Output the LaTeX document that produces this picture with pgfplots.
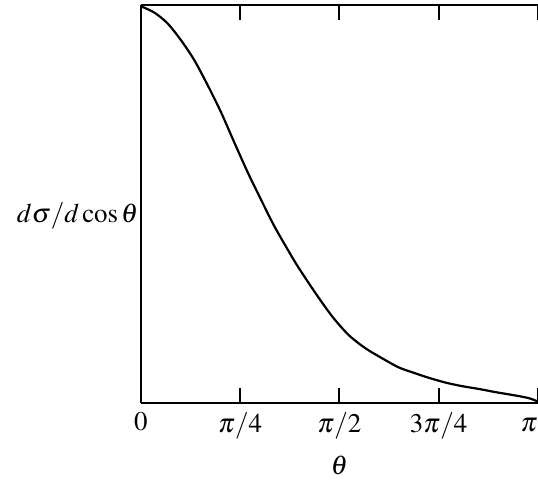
\documentclass[border=0pt]{standalone}
\usepackage{mathptmx}
\usepackage{fontspec}
\setmainfont{Liberation Serif}
\usepackage{pgfplots}
\pgfplotsset{compat=1.18}

\begin{document}
\begin{tikzpicture}
  \begin{axis}[
      scale only axis,
      width=199pt, height=199.5pt,
      xmin=0, xmax=4, ymin=0, ymax=1,
      axis x line*=box, axis y line*=left,
      axis line style={line width=1pt},
      xtick={0,1,2,3,4},
      xticklabels={$0$,$\pi/4$,$\pi/2$,$3\pi/4$,},
      ytick=\empty,
      tick align=inside,
      major tick length=7.5pt,
      every tick/.style={black, line width=1pt},
      tick label style={font=\fontsize{13.5}{16}\selectfont},
      xticklabel style={yshift=-1pt},
      xlabel={$\theta$},
      xlabel style={font=\fontsize{13.5}{16}\selectfont, yshift=-1.5pt},
      clip=false,
    ]
    \addplot[black, line width=1.1pt, smooth] coordinates {
        (0,0.997) (0.136,0.981) (0.269,0.954) (0.404,0.912) (0.538,0.862)
        (0.671,0.800) (0.806,0.732) (0.940,0.656) (1.073,0.582) (1.174,0.530)
        (1.342,0.446) (1.510,0.373) (1.593,0.339) (1.761,0.276) (1.928,0.218)
        (2.095,0.171) (2.263,0.138) (2.430,0.113) (2.598,0.090) (2.766,0.075)
        (2.899,0.064) (3.067,0.052) (3.234,0.043) (3.402,0.036) (3.570,0.028)
        (3.737,0.021) (3.905,0.013) (4,0.004)
      };
    \coordinate (sw) at (rel axis cs:0,0);
    \coordinate (ne) at (rel axis cs:1,1);
    \node[anchor=north east, font=\fontsize{13.5}{16}\selectfont, inner sep=0pt]
      at (rel axis cs:1,0) [yshift=-7.5pt] {$\pi$};
    \node[anchor=east, font=\fontsize{13.5}{16}\selectfont, inner sep=1pt]
      at (rel axis cs:0,0.47) {$d\sigma/d\cos\theta$};
  \end{axis}
  \pgfresetboundingbox
  \useasboundingbox ([xshift=-70.5pt,yshift=-40.75pt]sw) rectangle ([yshift=2.5pt]ne);
\end{tikzpicture}
\end{document}
